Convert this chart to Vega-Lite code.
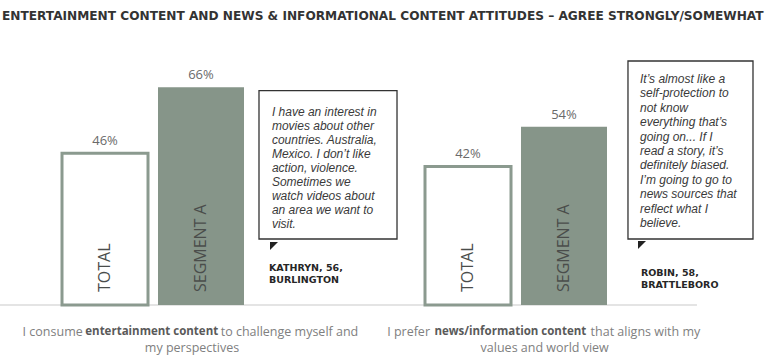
{
  "$schema": "https://vega.github.io/schema/vega-lite/v6.json",
  "width": 771,
  "height": 275,
  "autosize": {"type": "none"},
  "padding": {"left": 0, "right": 0, "top": 30, "bottom": 56},
  "background": "white",
  "config": {"view": {"stroke": null}},
  "title": {
    "text": "ENTERTAINMENT CONTENT AND NEWS & INFORMATIONAL CONTENT ATTITUDES – AGREE STRONGLY/SOMEWHAT",
    "anchor": "start",
    "offset": 8,
    "dx": 3,
    "font": "DejaVu Sans",
    "fontSize": 12.15,
    "fontWeight": "bold",
    "color": "#333333"
  },
  "datasets": {
    "bars": [
      {"question": "entertainment", "series": "TOTAL", "value": 0.46},
      {"question": "entertainment", "series": "SEGMENT A", "value": 0.66},
      {"question": "news", "series": "TOTAL", "value": 0.42},
      {"question": "news", "series": "SEGMENT A", "value": 0.54}
    ],
    "quotes": [
      {"question": "entertainment", "quote": "I have an interest in\nmovies about other\ncountries. Australia,\nMexico. I don’t like\naction, violence.\nSometimes we\nwatch videos about\nan area we want to\nvisit.", "name": "KATHRYN, 56,\nBURLINGTON"},
      {"question": "news", "quote": "It’s almost like a\nself-protection to\nnot know\neverything that’s\ngoing on... If I\nread a story, it’s\ndefinitely biased.\nI’m going to go to\nnews sources that\nreflect what I\nbelieve.", "name": "ROBIN, 58,\nBRATTLEBORO"}
    ],
    "statements": [
      {"question": "entertainment", "pre": "I consume", "key": "entertainment content", "post": "to challenge myself and", "line2": "my perspectives"},
      {"question": "news", "pre": "I prefer", "key": "news/information content", "post": "that aligns with my", "line2": "values and world view"}
    ]
  },
  "layer": [
    {
      "data": {"name": "statements"},
      "transform": [{"filter": "datum.question === 'entertainment'"}],
      "mark": {"type": "rule", "color": "#e4e4e4", "strokeWidth": 2},
      "encoding": {
        "x": {"field": "question", "type": "nominal", "bandPosition": -0.062, "axis": null,
              "scale": {"domain": ["entertainment", "news"], "paddingInner": 0, "paddingOuter": 0.062}},
        "x2": {"field": "question", "bandPosition": 1.858},
        "y": {"datum": 0, "type": "quantitative", "axis": null,
              "scale": {"domain": [0, 0.8333], "nice": false, "zero": true}}
      }
    },
    {
      "data": {"name": "bars"},
      "mark": {"type": "bar"},
      "encoding": {
        "x": {"field": "question", "type": "nominal"},
        "xOffset": {"field": "series", "type": "nominal",
                    "scale": {"domain": ["TOTAL", "SEGMENT A"], "range": [39.5, 221.5], "paddingInner": 0.104, "paddingOuter": 0}},
        "y": {"field": "value", "type": "quantitative"},
        "fill": {"condition": {"test": "datum.series === 'TOTAL'", "value": "#ffffff"}, "value": "#869589"},
        "stroke": {"value": "#8b9a8f"},
        "strokeWidth": {"condition": {"test": "datum.series === 'TOTAL'", "value": 3}, "value": 0}
      }
    },
    {
      "data": {"name": "bars"},
      "mark": {"type": "text", "dy": -12, "baseline": "middle", "font": "Open Sans", "fontSize": 13, "color": "#6a6a6a"},
      "encoding": {
        "x": {"field": "question", "type": "nominal"},
        "xOffset": {"field": "series", "type": "nominal"},
        "y": {"field": "value", "type": "quantitative"},
        "text": {"field": "value", "type": "quantitative", "format": ".0%"}
      }
    },
    {
      "data": {"name": "bars"},
      "mark": {"type": "text", "angle": 270, "align": "left", "baseline": "middle", "dx": 13, "font": "Open Sans", "fontSize": 16, "color": "#4a4d4b"},
      "encoding": {
        "x": {"field": "question", "type": "nominal"},
        "xOffset": {"field": "series", "type": "nominal"},
        "y": {"datum": 0, "type": "quantitative"},
        "text": {"field": "series", "type": "nominal"}
      }
    },
    {
      "data": {"name": "quotes"},
      "transform": [{"filter": "datum.question === 'entertainment'"}],
      "mark": {"type": "rect", "fill": "white", "stroke": "#333333", "strokeWidth": 1.3},
      "encoding": {
        "x": {"field": "question", "type": "nominal", "bandPosition": 0.6515},
        "x2": {"field": "question", "bandPosition": 1.0317},
        "y": {"datum": 0.2, "type": "quantitative"},
        "y2": {"datum": 0.6494}
      }
    },
    {
      "data": {"name": "quotes"},
      "transform": [{"filter": "datum.question === 'news'"}],
      "mark": {"type": "rect", "fill": "white", "stroke": "#333333", "strokeWidth": 1.3},
      "encoding": {
        "x": {"field": "question", "type": "nominal", "bandPosition": 0.668},
        "x2": {"field": "question", "bandPosition": 1.0124},
        "y": {"datum": 0.2, "type": "quantitative"},
        "y2": {"datum": 0.7394}
      }
    },
    {
      "data": {"name": "quotes"},
      "transform": [{"filter": "datum.question === 'entertainment'"}],
      "mark": {"type": "text", "align": "left", "baseline": "top", "lineBreak": "\n", "lineHeight": 14, "font": "Liberation Sans", "fontStyle": "italic", "fontSize": 12, "color": "#3a3a3a"},
      "encoding": {
        "x": {"field": "question", "type": "nominal", "bandPosition": 0.687},
        "y": {"datum": 0.6, "type": "quantitative"},
        "text": {"field": "quote", "type": "nominal"}
      }
    },
    {
      "data": {"name": "quotes"},
      "transform": [{"filter": "datum.question === 'news'"}],
      "mark": {"type": "text", "align": "left", "baseline": "top", "lineBreak": "\n", "lineHeight": 14.4, "font": "Liberation Sans", "fontStyle": "italic", "fontSize": 12, "color": "#3a3a3a"},
      "encoding": {
        "x": {"field": "question", "type": "nominal", "bandPosition": 0.701},
        "y": {"datum": 0.7, "type": "quantitative"},
        "text": {"field": "quote", "type": "nominal"}
      }
    },
    {
      "data": {"name": "quotes"},
      "transform": [{"filter": "datum.question === 'entertainment'"}],
      "mark": {"type": "point", "shape": "M-1,-1L1,-1L-1,1Z", "size": 64, "filled": true, "color": "#222222", "opacity": 1},
      "encoding": {
        "x": {"field": "question", "type": "nominal", "bandPosition": 0.6928},
        "y": {"datum": 0.1788, "type": "quantitative"}
      }
    },
    {
      "data": {"name": "quotes"},
      "transform": [{"filter": "datum.question === 'news'"}],
      "mark": {"type": "point", "shape": "M-1,-1L1,-1L-1,1Z", "size": 64, "filled": true, "color": "#222222", "opacity": 1},
      "encoding": {
        "x": {"field": "question", "type": "nominal", "bandPosition": 0.7066},
        "y": {"datum": 0.1818, "type": "quantitative"}
      }
    },
    {
      "data": {"name": "quotes"},
      "transform": [{"filter": "datum.question === 'entertainment'"}],
      "mark": {"type": "text", "align": "left", "baseline": "top", "lineBreak": "\n", "lineHeight": 12, "font": "DejaVu Sans", "fontWeight": "bold", "fontSize": 9.5, "color": "#262626"},
      "encoding": {
        "x": {"field": "question", "type": "nominal", "bandPosition": 0.679},
        "y": {"datum": 0.128, "type": "quantitative"},
        "text": {"field": "name", "type": "nominal"}
      }
    },
    {
      "data": {"name": "quotes"},
      "transform": [{"filter": "datum.question === 'news'"}],
      "mark": {"type": "text", "align": "left", "baseline": "top", "lineBreak": "\n", "lineHeight": 12, "font": "DejaVu Sans", "fontWeight": "bold", "fontSize": 9.5, "color": "#262626"},
      "encoding": {
        "x": {"field": "question", "type": "nominal", "bandPosition": 0.7036},
        "y": {"datum": 0.1112, "type": "quantitative"},
        "text": {"field": "name", "type": "nominal"}
      }
    },
    {
      "data": {"name": "statements"},
      "transform": [{"filter": "datum.question === 'entertainment'"}],
      "mark": {"type": "text", "align": "right", "baseline": "middle", "font": "Open Sans", "fontSize": 12.5, "color": "#808080"},
      "encoding": {
        "x": {"field": "question", "type": "nominal", "bandPosition": 0.166},
        "y": {"datum": -0.0818, "type": "quantitative"},
        "text": {"field": "pre", "type": "nominal"}
      }
    },
    {
      "data": {"name": "statements"},
      "transform": [{"filter": "datum.question === 'entertainment'"}],
      "mark": {"type": "text", "align": "center", "baseline": "middle", "font": "Open Sans", "fontWeight": "bold", "fontSize": 11.5, "color": "#5a5a5a"},
      "encoding": {
        "x": {"field": "question", "type": "nominal", "bandPosition": 0.356},
        "y": {"datum": -0.0818, "type": "quantitative"},
        "text": {"field": "key", "type": "nominal"}
      }
    },
    {
      "data": {"name": "statements"},
      "transform": [{"filter": "datum.question === 'entertainment'"}],
      "mark": {"type": "text", "align": "left", "baseline": "middle", "font": "Open Sans", "fontSize": 12.5, "color": "#808080"},
      "encoding": {
        "x": {"field": "question", "type": "nominal", "bandPosition": 0.546},
        "y": {"datum": -0.0818, "type": "quantitative"},
        "text": {"field": "post", "type": "nominal"}
      }
    },
    {
      "data": {"name": "statements"},
      "transform": [{"filter": "datum.question === 'entertainment'"}],
      "mark": {"type": "text", "align": "center", "baseline": "middle", "font": "Open Sans", "fontSize": 12.5, "color": "#808080"},
      "encoding": {
        "x": {"field": "question", "type": "nominal", "bandPosition": 0.467},
        "y": {"datum": -0.1303, "type": "quantitative"},
        "text": {"field": "line2", "type": "nominal"}
      }
    },
    {
      "data": {"name": "statements"},
      "transform": [{"filter": "datum.question === 'news'"}],
      "mark": {"type": "text", "align": "right", "baseline": "middle", "font": "Open Sans", "fontSize": 12.5, "color": "#808080"},
      "encoding": {
        "x": {"field": "question", "type": "nominal", "bandPosition": 0.1226},
        "y": {"datum": -0.0818, "type": "quantitative"},
        "text": {"field": "pre", "type": "nominal"}
      }
    },
    {
      "data": {"name": "statements"},
      "transform": [{"filter": "datum.question === 'news'"}],
      "mark": {"type": "text", "align": "center", "baseline": "middle", "font": "Open Sans", "fontWeight": "bold", "fontSize": 11.5, "color": "#5a5a5a"},
      "encoding": {
        "x": {"field": "question", "type": "nominal", "bandPosition": 0.3438},
        "y": {"datum": -0.0818, "type": "quantitative"},
        "text": {"field": "key", "type": "nominal"}
      }
    },
    {
      "data": {"name": "statements"},
      "transform": [{"filter": "datum.question === 'news'"}],
      "mark": {"type": "text", "align": "left", "baseline": "middle", "font": "Open Sans", "fontSize": 12.5, "color": "#808080"},
      "encoding": {
        "x": {"field": "question", "type": "nominal", "bandPosition": 0.565},
        "y": {"datum": -0.0818, "type": "quantitative"},
        "text": {"field": "post", "type": "nominal"}
      }
    },
    {
      "data": {"name": "statements"},
      "transform": [{"filter": "datum.question === 'news'"}],
      "mark": {"type": "text", "align": "center", "baseline": "middle", "font": "Open Sans", "fontSize": 12.5, "color": "#808080"},
      "encoding": {
        "x": {"field": "question", "type": "nominal", "bandPosition": 0.4386},
        "y": {"datum": -0.1303, "type": "quantitative"},
        "text": {"field": "line2", "type": "nominal"}
      }
    }
  ]
}
